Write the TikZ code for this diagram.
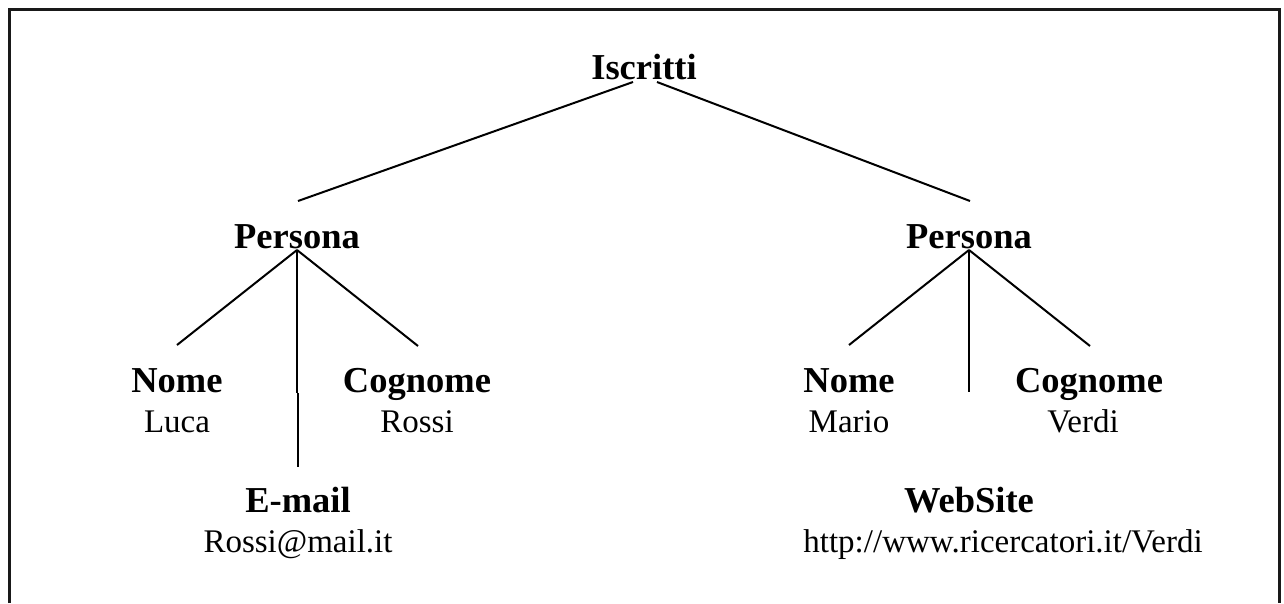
\documentclass[tikz,border=0pt]{standalone}
\usepackage{fontspec}
\setmainfont{Liberation Serif}
\tikzset{
  title/.style={inner sep=0pt, anchor=base, font=\fontsize{36.5}{40}\selectfont\bfseries},
  value/.style={inner sep=0pt, anchor=base, font=\fontsize{33}{36}\selectfont},
  edge/.style={line width=2pt},
  frame/.style={line width=3pt, draw=black!90}
}
\begin{document}
\begin{tikzpicture}[x=1pt,y=-1pt]
\useasboundingbox (0,0) rectangle (1284,603);
\draw[frame] (9.5,603) -- (9.5,9.5) -- (1279.5,9.5) -- (1279.5,603);

\node[title] (isc) at (644,79) {Iscritti};
\node[title] (p1) at (297,248) {Persona};
\node[title] (p2) at (969,248) {Persona};

\node[title] (n1) at (177,392) {Nome};
\node[value] (v1) at (177,432) {Luca};
\node[title] (c1) at (417,392) {Cognome};
\node[value] (r1) at (417,432) {Rossi};
\node[title] (e1) at (298,512) {E-mail};
\node[value] (m1) at (298,552) {Rossi@mail.it};

\node[title] (n2) at (849,392) {Nome};
\node[value] (v2) at (849,432) {Mario};
\node[title] (c2) at (1089,392) {Cognome};
\node[value] (r2) at (1083,432) {Verdi};
\node[title] (w2) at (969,512) {WebSite};
\node[value] (u2) at (1003,552) {http://www.ricercatori.it/Verdi};

\coordinate (iscL) at (633,82);
\coordinate (iscR) at (657,82);
\coordinate (p1in) at (298,201);
\coordinate (p2in) at (970,201);
\coordinate (p1o) at (297,250);
\coordinate (p2o) at (969,250);
\coordinate (n1in) at (177,345);
\coordinate (c1in) at (418,346);
\coordinate (e1a) at (297,393);
\coordinate (e1b) at (298,393);
\coordinate (e1in) at (298,467);
\coordinate (n2in) at (849,345);
\coordinate (c2in) at (1090,346);
\coordinate (w2in) at (969,392);

\draw[edge] (iscL) -- (p1in);
\draw[edge] (iscR) -- (p2in);
\draw[edge] (p1o) -- (n1in);
\draw[edge] (p1o) -- (c1in);
\draw[edge] (p1o) -- (e1a);
\draw[edge] (e1b) -- (e1in);
\draw[edge] (p2o) -- (n2in);
\draw[edge] (p2o) -- (c2in);
\draw[edge] (p2o) -- (w2in);
\end{tikzpicture}
\end{document}
